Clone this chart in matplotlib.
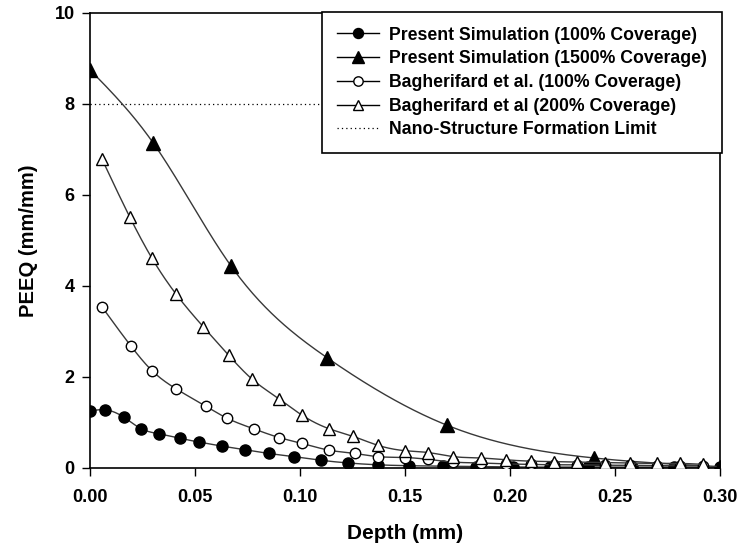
import numpy as np
import matplotlib
matplotlib.use("Agg")
import matplotlib.pyplot as plt

plt.rcParams['font.family'] = ['Liberation Sans', 'DejaVu Sans']
plt.rcParams['font.weight'] = 'bold'

# Present Simulation (100% Coverage)
d_sim100 = [0.0, 0.007, 0.016, 0.0245, 0.033, 0.043, 0.052, 0.063, 0.074, 0.085, 0.097, 0.110,
            0.123, 0.137, 0.152, 0.168, 0.184, 0.2015, 0.219, 0.237, 0.258, 0.278, 0.30]
v_sim100 = [1.25, 1.28, 1.12, 0.86, 0.75, 0.65, 0.57, 0.48, 0.40, 0.32, 0.25, 0.17,
            0.11, 0.07, 0.05, 0.04, 0.03, 0.02, 0.02, 0.02, 0.02, 0.02, 0.02]

# Present Simulation (1500% Coverage)
d_sim1500 = [0.0, 0.030, 0.067, 0.113, 0.170, 0.240, 0.30]
v_sim1500 = [8.75, 7.15, 4.45, 2.42, 0.94, 0.22, 0.03]

# Bagherifard et al. (100% Coverage)
d_bag100 = [0.0057, 0.0195, 0.0295, 0.041, 0.055, 0.065, 0.078, 0.090, 0.101, 0.114, 0.126, 0.137,
            0.150, 0.161, 0.173, 0.186, 0.198, 0.210, 0.221, 0.232, 0.245, 0.257, 0.270, 0.281, 0.292]
v_bag100 = [3.54, 2.68, 2.14, 1.74, 1.36, 1.10, 0.86, 0.67, 0.54, 0.39, 0.32, 0.25,
            0.23, 0.19, 0.13, 0.11, 0.09, 0.08, 0.07, 0.07, 0.06, 0.06, 0.05, 0.05, 0.05]

# Bagherifard et al (200% Coverage)
d_bag200 = [0.0057, 0.019, 0.0295, 0.041, 0.054, 0.066, 0.077, 0.090, 0.101, 0.114, 0.125, 0.137,
            0.150, 0.161, 0.173, 0.186, 0.198, 0.210, 0.221, 0.232, 0.245, 0.257, 0.270, 0.281, 0.292]
v_bag200 = [6.79, 5.51, 4.61, 3.82, 3.10, 2.48, 1.96, 1.52, 1.16, 0.86, 0.70, 0.50,
            0.38, 0.34, 0.25, 0.22, 0.18, 0.15, 0.14, 0.13, 0.12, 0.11, 0.10, 0.10, 0.08]

nano_limit = 8.0


def smooth_curve(x, y, n=400):
    # natural cubic spline through the points, only used to draw the connecting line
    x = np.asarray(x, float)
    y = np.asarray(y, float)
    m = len(x)
    h = np.diff(x)
    A = np.zeros((m, m))
    b = np.zeros(m)
    A[0, 0] = A[-1, -1] = 1.0
    for i in range(1, m - 1):
        A[i, i - 1] = h[i - 1]
        A[i, i] = 2 * (h[i - 1] + h[i])
        A[i, i + 1] = h[i]
        b[i] = 6 * ((y[i + 1] - y[i]) / h[i] - (y[i] - y[i - 1]) / h[i - 1])
    M = np.linalg.solve(A, b)
    xs = np.linspace(x[0], x[-1], n)
    k = np.clip(np.searchsorted(x, xs) - 1, 0, m - 2)
    t1 = x[k + 1] - xs
    t0 = xs - x[k]
    hk = h[k]
    ys = (M[k] * t1**3 + M[k + 1] * t0**3) / (6 * hk) \
        + (y[k] / hk - M[k] * hk / 6) * t1 + (y[k + 1] / hk - M[k + 1] * hk / 6) * t0
    return xs, ys


fig = plt.figure(figsize=(7.5, 5.45), dpi=100)
ax = fig.add_axes([0.12, 0.1413, 0.84, 0.8349])

line_col = '#383838'
series = [
    (d_sim100, v_sim100, 'o', 'black', 8, 'Present Simulation (100% Coverage)'),
    (d_sim1500, v_sim1500, '^', 'black', 9.5, 'Present Simulation (1500% Coverage)'),
    (d_bag100, v_bag100, 'o', 'white', 7.5, 'Bagherifard et al. (100% Coverage)'),
    (d_bag200, v_bag200, '^', 'white', 8.5, 'Bagherifard et al (200% Coverage)'),
]

handles = []
for i, (xd, yd, m, fc, ms, lab) in enumerate(series):
    xs, ys = smooth_curve(xd, yd)
    ax.plot(xs, ys, color=line_col, lw=1.0, zorder=2 + i)
    ax.plot(xd, yd, ls='none', marker=m, ms=ms, mfc=fc, mec='black', mew=1.0, zorder=2 + i)
    h, = ax.plot([], [], color='black', lw=1.0, marker=m, ms=ms * 0.9, mfc=fc, mec='black', label=lab)
    handles.append(h)

h, = ax.plot([0, 0.30], [nano_limit, nano_limit], color='black', ls=(0, (1, 2.5)), lw=0.9,
             label='Nano-Structure Formation Limit', zorder=1)
handles.append(h)

ax.set_xlim(0, 0.30)
ax.set_ylim(0, 10)
ax.set_xticks(np.arange(0, 0.31, 0.05))
ax.set_xticklabels(['0.00', '0.05', '0.10', '0.15', '0.20', '0.25', '0.30'])
ax.set_yticks([0, 2, 4, 6, 8, 10])
ax.tick_params(direction='out', length=6, width=1, labelsize=13)
ax.tick_params(axis='x', pad=9)
ax.tick_params(axis='y', pad=5)
for s in ax.spines.values():
    s.set_linewidth(1.2)

ax.set_xlabel('Depth (mm)', fontsize=15, fontweight='bold', labelpad=13)
ax.set_ylabel('PEEQ (mm/mm)', fontsize=14.5, fontweight='bold', labelpad=12)

leg = ax.legend(handles=handles, loc='upper right', bbox_to_anchor=(1.003, 1.003),
                borderaxespad=0, frameon=True, fancybox=False,
                framealpha=1, edgecolor='black', handlelength=2.4, handletextpad=0.57,
                labelspacing=0.38, borderpad=0.85, prop={'weight': 'bold', 'size': 12.7})
leg.get_frame().set_linewidth(1.2)
leg.set_zorder(10)

fig.savefig('out.png', dpi=100)
